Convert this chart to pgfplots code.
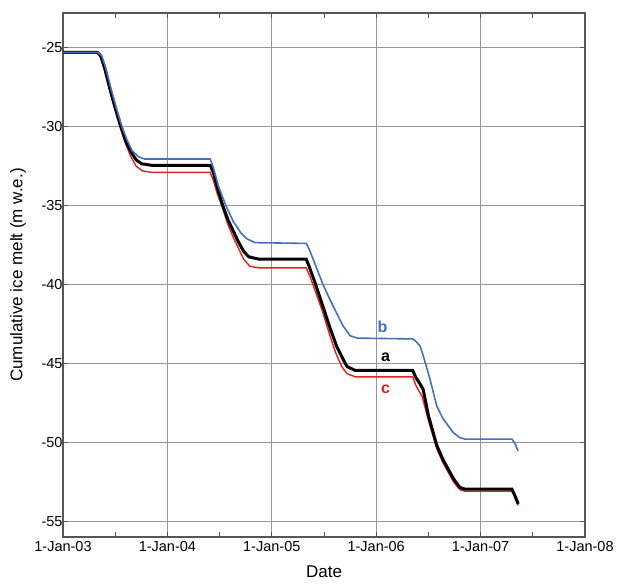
\documentclass[border=0pt]{standalone}
\usepackage{pgfplots}
\pgfplotsset{compat=1.18}
\usepackage{fontspec}
\setmainfont{Liberation Sans}
\definecolor{cb}{RGB}{66,112,196}
\definecolor{cr}{RGB}{235,30,30}
\definecolor{gridc}{RGB}{150,150,150}
\definecolor{axc}{RGB}{90,85,85}
\begin{document}
\begin{tikzpicture}
\begin{axis}[
  width=522pt, height=524pt, scale only axis,
  xmin=2003, xmax=2008, ymin=-56, ymax=-22.8,
  xtick={2003,2004,2005,2006,2007,2008},
  xticklabels={1-Jan-03,1-Jan-04,1-Jan-05,1-Jan-06,1-Jan-07,1-Jan-08},
  minor xtick={2003.5,2004.5,2005.5,2006.5,2007.5},
  ytick={-55,-50,-45,-40,-35,-30,-25},
  yticklabels={-55,-50,-45,-40,-35,-30,-25},
  tick align=inside, tick pos=both,
  major tick length=5pt, minor tick length=5pt,
  grid=major,
  major grid style={gridc, line width=0.8pt},
  axis line style={axc, line width=1.2pt},
  tick style={axc, line width=1pt},
  ticklabel style={font=\fontsize{14.5}{16}\selectfont},
  yticklabel style={xshift=3pt},
  xticklabel style={yshift=-1pt},
  xlabel={Date}, ylabel={Cumulative ice melt (m w.e.)},
  every axis x label/.style={at={(axis description cs:0.5,0)}, anchor=center, yshift=-35pt, font=\fontsize{17}{19}\selectfont},
  every axis y label/.style={at={(axis description cs:0,0.5)}, anchor=center, xshift=-45pt, rotate=90, font=\fontsize{17}{19}\selectfont},
  clip=false,
]
\addplot[cr, line width=1.4pt] coordinates {
(2003.00,-25.3) (2003.33,-25.3) (2003.36,-25.6) (2003.40,-26.5) (2003.45,-27.8) (2003.50,-29.0) (2003.55,-30.1) (2003.60,-31.1) (2003.65,-31.9) (2003.70,-32.5) (2003.76,-32.8) (2003.85,-32.9) (2004.41,-32.9)
(2004.44,-33.4) (2004.48,-34.3) (2004.52,-35.0) (2004.58,-36.2) (2004.63,-37.0) (2004.68,-37.7) (2004.73,-38.4) (2004.79,-38.85) (2004.88,-38.95) (2005.33,-38.95)
(2005.36,-39.4) (2005.41,-40.3) (2005.48,-41.6) (2005.55,-43.1) (2005.61,-44.3) (2005.67,-45.2) (2005.72,-45.65) (2005.80,-45.85) (2006.35,-45.85)
(2006.38,-46.4) (2006.44,-47.1) (2006.50,-48.6) (2006.58,-50.4) (2006.64,-51.3) (2006.74,-52.5) (2006.80,-53.0) (2006.85,-53.1) (2007.30,-53.1) (2007.33,-53.5) (2007.36,-54.0)
};
\addplot[black, line width=3pt] coordinates {
(2003.00,-25.3) (2003.33,-25.3) (2003.36,-25.5) (2003.40,-26.3) (2003.45,-27.6) (2003.50,-28.8) (2003.55,-29.9) (2003.60,-30.9) (2003.65,-31.6) (2003.70,-32.1) (2003.75,-32.35) (2003.85,-32.45) (2004.41,-32.45)
(2004.44,-32.9) (2004.48,-33.9) (2004.53,-35.0) (2004.58,-35.9) (2004.63,-36.6) (2004.68,-37.3) (2004.73,-37.9) (2004.78,-38.25) (2004.88,-38.4) (2005.33,-38.4)
(2005.36,-38.9) (2005.42,-40.0) (2005.48,-41.2) (2005.56,-42.8) (2005.62,-43.9) (2005.68,-44.7) (2005.72,-45.2) (2005.80,-45.45) (2006.35,-45.45)
(2006.38,-45.9) (2006.42,-46.3) (2006.45,-46.65) (2006.50,-48.3) (2006.58,-50.2) (2006.64,-51.1) (2006.74,-52.3) (2006.80,-52.85) (2006.85,-52.97) (2007.30,-52.97) (2007.33,-53.4) (2007.36,-53.9)
};
\addplot[cb, line width=1.6pt] coordinates {
(2003.00,-25.3) (2003.33,-25.3) (2003.37,-25.5) (2003.41,-26.3) (2003.46,-27.6) (2003.51,-28.8) (2003.56,-29.9) (2003.61,-30.8) (2003.66,-31.5) (2003.72,-31.9) (2003.78,-32.05) (2004.41,-32.05)
(2004.44,-32.6) (2004.49,-33.8) (2004.56,-35.0) (2004.63,-36.0) (2004.70,-36.7) (2004.76,-37.1) (2004.84,-37.35) (2005.33,-37.4)
(2005.36,-37.8) (2005.42,-38.8) (2005.49,-40.0) (2005.56,-41.0) (2005.62,-41.8) (2005.68,-42.6) (2005.75,-43.25) (2005.82,-43.4) (2006.35,-43.45)
(2006.38,-43.6) (2006.42,-43.9) (2006.45,-44.5) (2006.515,-46.0) (2006.58,-47.7) (2006.64,-48.5) (2006.74,-49.4) (2006.80,-49.7) (2006.85,-49.8) (2007.30,-49.8) (2007.33,-50.1) (2007.36,-50.55)
};
\node[cb, font=\bfseries\fontsize{16}{17}\selectfont] at (axis cs:2006.06,-42.66) {b};
\node[black, font=\bfseries\fontsize{16}{17}\selectfont] at (axis cs:2006.09,-44.6) {a};
\node[cr, font=\bfseries\fontsize{16}{17}\selectfont] at (axis cs:2006.09,-46.65) {c};
\end{axis}
\path (current axis.south west) ++(-63pt,-46pt);
\path (current axis.north east) ++(32pt,13pt);
\end{tikzpicture}
\end{document}
